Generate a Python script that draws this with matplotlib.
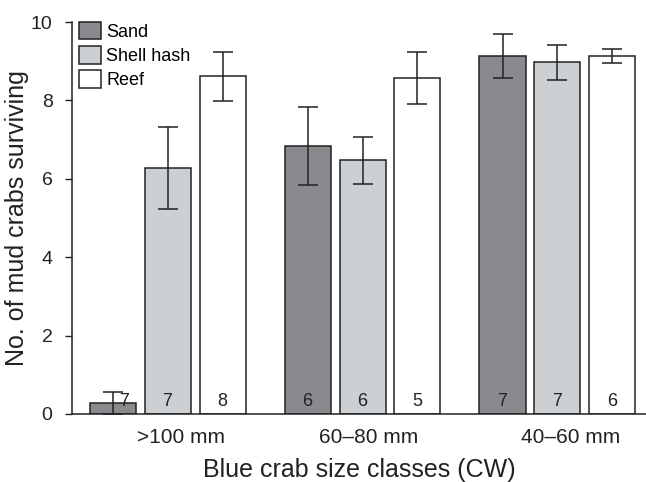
import matplotlib
matplotlib.use("Agg")
import matplotlib.pyplot as plt
import numpy as np

plt.rcParams['font.family'] = ['Liberation Sans', 'DejaVu Sans']

size_classes = [">100 mm", "60\u201380 mm", "40\u201360 mm"]
habitats = ["Sand", "Shell hash", "Reef"]
means = {
    "Sand": [0.28, 6.83, 9.13],
    "Shell hash": [6.28, 6.47, 8.97],
    "Reef": [8.61, 8.57, 9.13],
}
errors = {
    "Sand": [0.27, 1.0, 0.56],
    "Shell hash": [1.05, 0.6, 0.45],
    "Reef": [0.62, 0.67, 0.18],
}
sample_n = {
    "Sand": [7, 6, 7],
    "Shell hash": [7, 6, 7],
    "Reef": [8, 5, 6],
}
colors = {"Sand": "#8b898e", "Shell hash": "#cdd0d3", "Reef": "#ffffff"}
ink = "#222222"

fig = plt.figure(figsize=(6.46, 4.82), dpi=100)
ax = fig.add_axes([72/646, (482-414)/482, (646-72)/646, 392/482])

x = np.arange(len(size_classes))
pitch = 0.282
width = 0.236
for i, h in enumerate(habitats):
    xs = x + (i - 1) * pitch
    ax.bar(xs, means[h], width=width, color=colors[h], edgecolor=ink,
           linewidth=1.1, label=h, zorder=2)
    ax.errorbar(xs, means[h], yerr=errors[h], fmt="none", ecolor=ink,
                elinewidth=1.1, capsize=7, capthick=1.1, zorder=3)
    for j, xv in enumerate(xs):
        off = 0.06 if (h == "Sand" and j == 0) else 0
        ax.text(xv + off, 0.32, str(sample_n[h][j]), ha="center", va="center",
                fontsize=13, color=ink, zorder=4)

label_shift = [0.067, 0.03, 0.067]
ax.set_xlim(-0.49, 2.454)
ax.set_ylim(0, 10)
ax.set_yticks([0, 2, 4, 6, 8, 10])
ax.set_xticks(x + np.array(label_shift))
ax.set_xticklabels(size_classes, fontsize=15)
ax.tick_params(axis="x", length=0, pad=10, colors=ink)
ax.tick_params(axis="y", length=5, width=1, labelsize=14, pad=9,
               direction="out", colors=ink)
ax.spines["top"].set_visible(False)
ax.spines["right"].set_visible(False)
for s in ["left", "bottom"]:
    ax.spines[s].set_linewidth(1.1)
    ax.spines[s].set_color(ink)
ax.set_xlabel("Blue crab size classes (CW)", fontsize=18, labelpad=8, color=ink)
ax.set_ylabel("No. of mud crabs surviving", fontsize=18, labelpad=1, color=ink)

leg = ax.legend(loc="upper left", frameon=False, fontsize=13, handlelength=1.22,
                handleheight=1.1, handletextpad=0.28, labelspacing=0.3,
                borderaxespad=0, borderpad=0, bbox_to_anchor=(7/574, 1.0))

fig.savefig("out.png", dpi=100)
